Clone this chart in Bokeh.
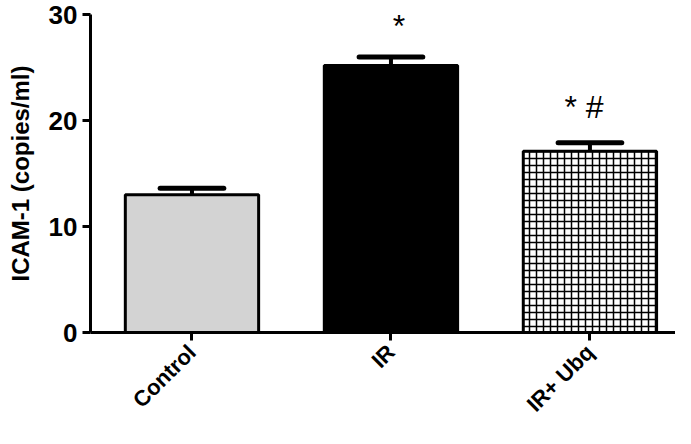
import math
from bokeh.plotting import figure
from bokeh.models import FixedTicker, Range1d
from bokeh.core.properties import value
from bokeh.embed import file_html
from bokeh.resources import INLINE

categories = ["Control", "IR", "IR+ Ubq"]
means = [13.0, 25.2, 17.1]
errors = [0.6, 0.8, 0.8]
marks = ["", "*", "* #"]
mark_y = [0, 28.9, 21.3]
y_ticks = [0, 10, 20, 30]

xs = [i + 1 for i in range(len(categories))]
FONT = "Liberation Sans"

p = figure(width=675, height=428, output_backend="svg", toolbar_location=None,
           x_range=Range1d(0.49, 3.43), y_range=Range1d(0, 30),
           min_border_left=90, min_border_right=0, min_border_top=14, min_border_bottom=90)
p.outline_line_color = None
p.grid.visible = False

fills = ["#d3d3d3", "#000000"]
p.vbar(x=[xs[0], xs[1]], top=[means[0], means[1]], width=0.67, bottom=0,
       fill_color=fills, line_color="black", line_width=3)
p.vbar(x=[xs[2]], top=[means[2]], width=0.67, bottom=0,
       fill_color="#ffffff", line_color="black", line_width=3,
       hatch_pattern="cross", hatch_scale=7, hatch_weight=1.5, hatch_color="black")

upper = [m + e for m, e in zip(means, errors)]
p.segment(x0=xs, y0=means, x1=xs, y1=upper, line_color="black", line_width=4)
p.segment(x0=[x - 0.16 for x in xs], y0=upper, x1=[x + 0.16 for x in xs], y1=upper,
          line_color="black", line_width=5, line_cap="round")

p.text(x=[xs[1] + 0.04, xs[2] - 0.03], y=[mark_y[1], mark_y[2]], text=[marks[1], marks[2]],
       text_font=value(FONT), text_font_size="32px", text_align="center",
       text_baseline="middle", text_color="black")

for ax in (p.xaxis[0], p.yaxis[0]):
    ax.axis_line_width = 3
    ax.axis_line_color = "black"
    ax.major_tick_line_width = 3
    ax.major_tick_out = 8
    ax.major_tick_in = 0
    ax.minor_tick_line_color = None
    ax.major_label_text_font = FONT
    ax.major_label_text_font_style = "bold"
    ax.major_label_text_color = "black"

p.yaxis.ticker = FixedTicker(ticks=y_ticks)
p.yaxis.major_label_text_font_size = "26px"
p.yaxis.axis_label = "ICAM-1 (copies/ml)"
p.yaxis.axis_label_text_font = FONT
p.yaxis.axis_label_text_font_style = "bold"
p.yaxis.axis_label_text_font_size = "24px"
p.yaxis.axis_label_text_color = "black"
p.yaxis.axis_label_standoff = 12

p.xaxis.ticker = FixedTicker(ticks=xs)
p.xaxis.major_label_overrides = {x: c for x, c in zip(xs, categories)}
p.xaxis.major_label_orientation = math.pi / 4
p.xaxis.major_label_text_font_size = "22px"
p.xaxis.major_label_standoff = 8

open("out.html", "w").write(file_html(p, INLINE))
